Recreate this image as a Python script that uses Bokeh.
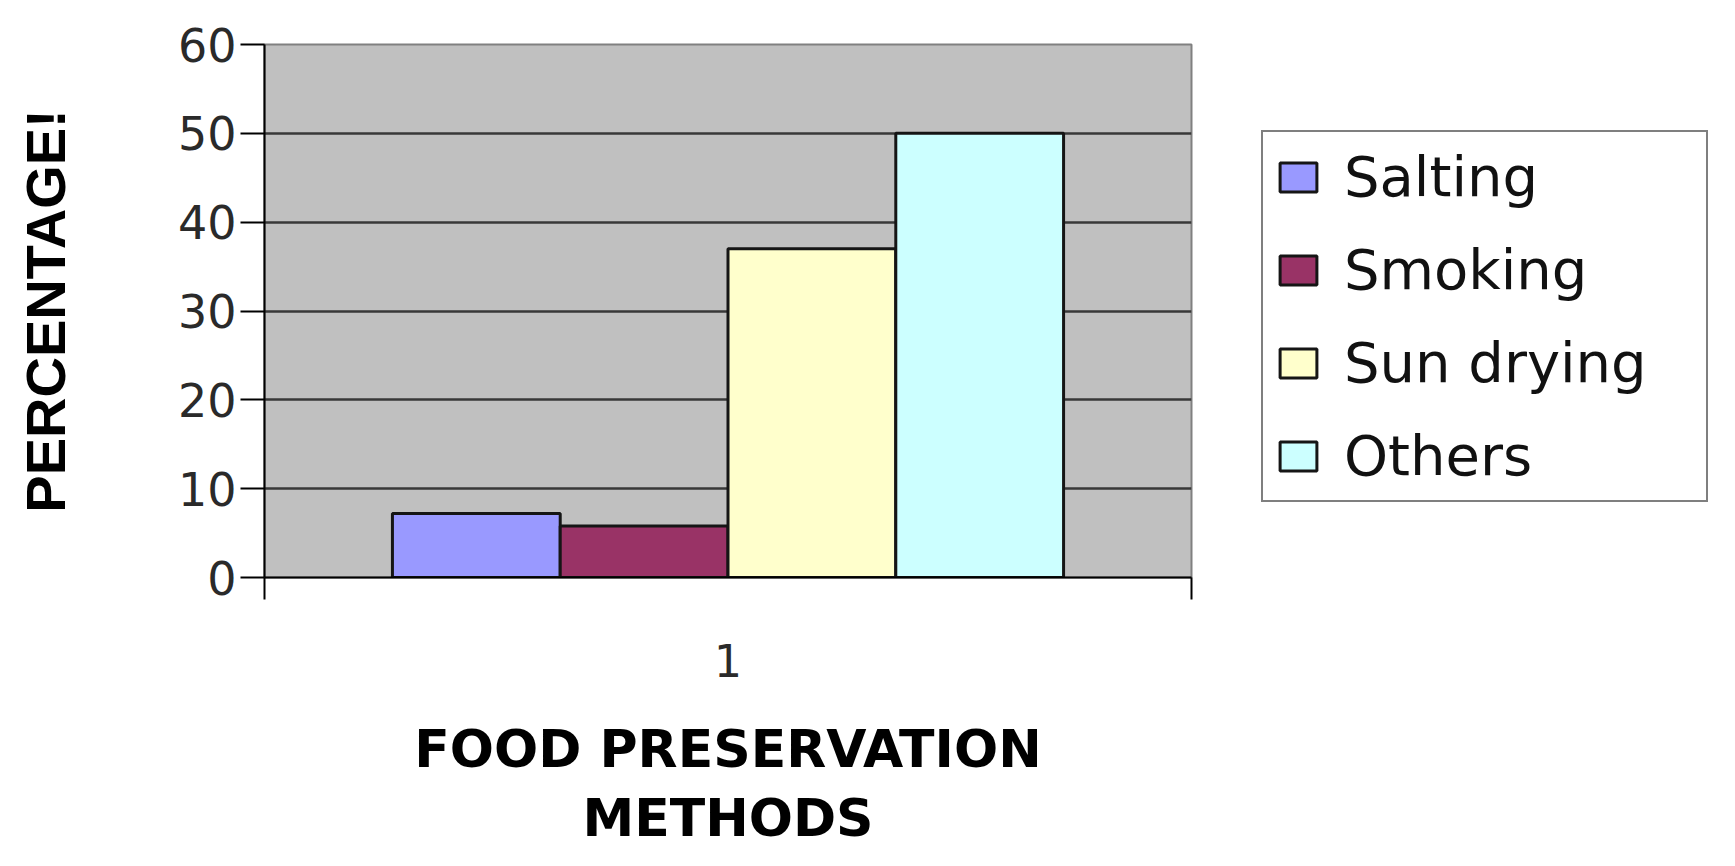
from bokeh.plotting import figure
from bokeh.layouts import row
from bokeh.models import Range1d, FixedTicker, Legend, LegendItem, ColumnDataSource
from bokeh.transform import dodge
from bokeh.embed import file_html
from bokeh.resources import INLINE

# ---- data ----
categories = [1]
category_labels = ["1"]
series = ["Salting", "Smoking", "Sun drying", "Others"]
values = [7.2, 5.8, 37, 50]
colors = ["#9999FF", "#993366", "#FFFFCC", "#CCFFFF"]
y_ticks = [0, 10, 20, 30, 40, 50, 60]
x_title = "FOOD PRESERVATION\nMETHODS"
y_title = "PERCENTAGE!"

FONT = "DejaVu Sans"
FONT_V = "Liberation Sans"

H = 850
W1, W2 = 1195, 524
LEFT, RIGHT, TOP, BOTTOM = 264, 4, 44, 272

p = figure(width=W1, height=H, output_backend="svg", toolbar_location=None,
           x_range=Range1d(0.5, 1.5), y_range=Range1d(0, 60),
           min_border_left=LEFT, min_border_right=RIGHT, min_border_top=TOP,
           min_border_bottom=BOTTOM,
           background_fill_color="#C0C0C0", border_fill_color="white")
p.outline_line_color = "#808080"
p.outline_line_width = 2

# legend-only panel on the right
q = figure(width=W2, height=H, output_backend="svg", toolbar_location=None,
           x_range=p.x_range, y_range=p.y_range, min_border=0,
           x_axis_location=None, y_axis_location=None,
           background_fill_color="white", border_fill_color="white")
q.outline_line_color = None
q.grid.visible = False

bar_w = 0.181
n = len(series)
items = []
for i, (name, val, col) in enumerate(zip(series, values, colors)):
    src = ColumnDataSource(dict(x=categories, top=[val]))
    kw = dict(x=dodge("x", (i - (n - 1) / 2) * bar_w, range=p.x_range), top="top",
              bottom=0, width=bar_w, source=src, fill_color=col,
              line_color="#151515", line_width=3)
    p.vbar(**kw)
    r = q.vbar(**kw)
    r.visible = False  # only used for the legend swatch
    items.append(LegendItem(label=name, renderers=[r]))

# grid
p.xgrid.visible = False
p.ygrid.ticker = FixedTicker(ticks=y_ticks)
p.ygrid.grid_line_color = "#383838"
p.ygrid.grid_line_width = 2.5

# y axis
ya = p.yaxis[0]
ya.ticker = FixedTicker(ticks=y_ticks)
ya.axis_line_color = "black"
ya.axis_line_width = 2
ya.major_tick_line_color = "black"
ya.major_tick_line_width = 2
ya.major_tick_out = 24
ya.major_tick_in = 0
ya.minor_tick_line_color = None
ya.major_label_text_font = FONT
ya.major_label_text_font_size = "46px"
ya.major_label_text_color = "#2a2a2a"
ya.major_label_standoff = 4
ya.axis_label = y_title
ya.axis_label_text_font = FONT_V
ya.axis_label_text_font_style = "bold"
ya.axis_label_text_font_size = "56px"
ya.axis_label_text_color = "black"
ya.axis_label_standoff = 98

# x axis
xa = p.xaxis[0]
xa.ticker = FixedTicker(ticks=categories, minor_ticks=[0.5, 1.5])
xa.major_label_overrides = {c: l for c, l in zip(categories, category_labels)}
xa.axis_line_color = "black"
xa.axis_line_width = 2
xa.major_tick_line_color = None
xa.major_tick_out = 20
xa.major_tick_in = 0
xa.minor_tick_line_color = "black"
xa.minor_tick_line_width = 2
xa.minor_tick_out = 22
xa.minor_tick_in = 0
xa.major_label_text_font = FONT
xa.major_label_text_font_size = "44px"
xa.major_label_text_color = "#2a2a2a"
xa.major_label_standoff = 44
xa.axis_label = x_title
xa.axis_label_text_font = FONT
xa.axis_label_text_font_style = "bold"
xa.axis_label_text_font_size = "52px"
xa.axis_label_text_color = "black"
xa.axis_label_text_line_height = 1.15
xa.axis_label_standoff = 39

# legend: frame-relative offsets inside the right-hand panel
legend = Legend(items=items, location=(66, 75))
legend.label_text_font = FONT
legend.label_text_font_size = "56px"
legend.label_text_color = "#111111"
legend.glyph_width = 46
legend.glyph_height = 36
legend.label_standoff = 23
legend.padding = 12
legend.spacing = 28
legend.label_width = 350
legend.margin = 0
legend.border_line_color = "black"
legend.border_line_width = 2
legend.background_fill_color = "white"
legend.background_fill_alpha = 1
legend.inactive_fill_alpha = 0
q.add_layout(legend, "center")

layout = row(p, q, spacing=0)
open("out.html", "w").write(file_html(layout, INLINE))
